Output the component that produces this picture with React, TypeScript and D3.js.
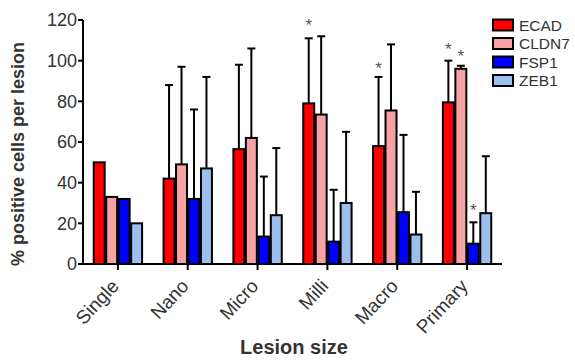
import React from "react";
import * as d3 from "d3";

const categories = ["Single", "Nano", "Micro", "Milli", "Macro", "Primary"];
const seriesNames = ["ECAD", "CLDN7", "FSP1", "ZEB1"];
const seriesColors = ["#ff0000", "#f7a3a3", "#0000ff", "#9dbff0"];
const ecad = [50, 42, 56.5, 79, 58, 79.5];
const cldn7 = [33, 49, 62, 73.5, 75.5, 96];
const fsp1 = [32, 32, 13.5, 11, 25.5, 10];
const zeb1 = [20, 47, 24, 30, 14.5, 25];
const ecadErr = [null, 88, 98, 111, 92, 100];
const cldn7Err = [null, 97, 106, 112, 108, 97.5];
const fsp1Err = [null, 76, 43, 36.5, 63.5, 20.5];
const zeb1Err = [null, 92, 57, 65, 35.5, 53];
// significance stars: [categoryIndex, seriesIndex, value position]
const stars = [
  [3, 0, 119],
  [4, 0, 98],
  [5, 0, 107],
  [5, 1, 104],
  [5, 2, 28],
];
const yTicks = [0, 20, 40, 60, 80, 100, 120];

const values = [ecad, cldn7, fsp1, zeb1];
const errs = [ecadErr, cldn7Err, fsp1Err, zeb1Err];

export default function App() {
  const W = 575, H = 360;
  const x0 = 83, x1 = 502, yb = 264, yt = 20;
  const y = d3.scaleLinear().domain([0, 120]).range([yb, yt]);
  const xg = d3.scaleBand().domain(categories).range([x0, x1]).paddingInner(0.286).paddingOuter(0.143);
  const xs = d3.scaleBand().domain(seriesNames).range([0, xg.bandwidth()]);
  const font = "Liberation Sans, Arial, sans-serif";
  const txt = "#333";

  return (
    <svg width={W} height={H} style={{ position: "absolute", left: 0, top: 0 }} fontFamily={font}>
      <rect width={W} height={H} fill="#fff" />
      {/* bars */}
      {categories.map((c, ci) =>
        seriesNames.map((s, si) => {
          const v = values[si][ci];
          const bx = (xg(c) as number) + (xs(s) as number);
          const bw = xs.bandwidth();
          const e = errs[si][ci];
          const cx = bx + bw / 2;
          return (
            <g key={c + s}>
              {e != null && (
                <g stroke="#000" strokeWidth={2}>
                  <line x1={cx} x2={cx} y1={y(v)} y2={y(e)} />
                  <line x1={cx - 4} x2={cx + 4} y1={y(e)} y2={y(e)} />
                </g>
              )}
              <rect x={bx + 0.75} y={y(v)} width={bw - 1.5} height={yb - y(v)} fill={seriesColors[si]} stroke="#000" strokeWidth={2} />
            </g>
          );
        })
      )}
      {/* stars */}
      {stars.map(([ci, si, v], i) => {
        const cx = (xg(categories[ci]) as number) + (xs(seriesNames[si]) as number) + xs.bandwidth() / 2;
        return (
          <text key={i} x={cx} y={y(v) + 9} textAnchor="middle" fontSize={17} fill="#555">*</text>
        );
      })}
      {/* y axis */}
      <line x1={x0} x2={x0} y1={yt} y2={yb} stroke="#000" strokeWidth={2} />
      {yTicks.map((t) => (
        <g key={t}>
          <line x1={x0 - 5} x2={x0} y1={y(t)} y2={y(t)} stroke="#000" strokeWidth={2} />
          <text x={x0 - 6} y={y(t)} dy="0.36em" textAnchor="end" fontSize={18} fill={txt}>{t}</text>
        </g>
      ))}
      {/* x axis */}
      <line x1={x0} x2={x1} y1={yb} y2={yb} stroke="#000" strokeWidth={2} />
      {categories.map((c) => {
        const cx = (xg(c) as number) + xg.bandwidth() / 2;
        return (
          <g key={c}>
            <line x1={cx} x2={cx} y1={yb} y2={yb + 6} stroke="#000" strokeWidth={2} />
            <text transform={`translate(${cx + 2},${yb + 23}) rotate(-47)`} textAnchor="end" fontSize={19} fill={txt}>{c}</text>
          </g>
        );
      })}
      <text x={294} y={354} textAnchor="middle" fontSize={20} fontWeight="bold" fill={txt}>Lesion size</text>
      <text transform={`translate(24,154) rotate(-90)`} textAnchor="middle" fontSize={18} fontWeight="bold" fill={txt}>% positive cells per lesion</text>
      {/* legend */}
      {seriesNames.map((s, i) => (
        <g key={s} transform={`translate(493,${25 + i * 18.5})`}>
          <rect x={0} y={-5.5} width={20} height={11} fill={seriesColors[i]} stroke="#000" strokeWidth={2} />
          <text x={26} y={0} dy="0.36em" fontSize={15.5} fill={txt}>{s}</text>
        </g>
      ))}
    </svg>
  );
}
